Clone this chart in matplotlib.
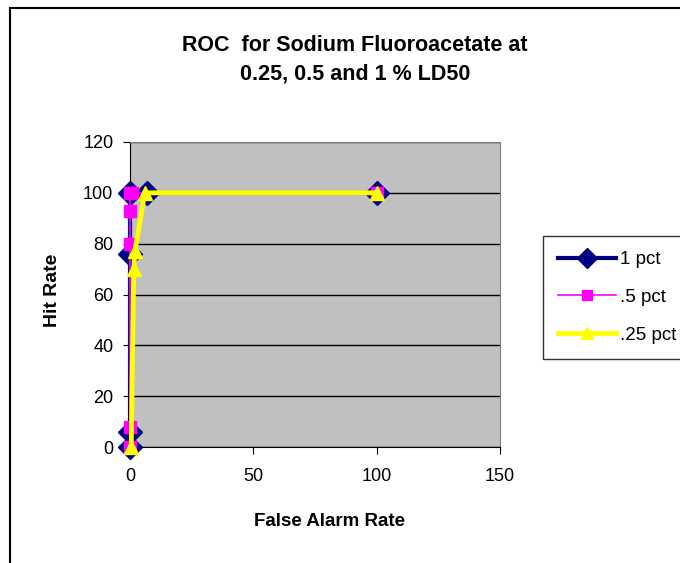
import matplotlib
matplotlib.use("Agg")
import matplotlib.pyplot as plt
from matplotlib.patches import Rectangle

plt.rcParams['font.family'] = ['Liberation Sans', 'DejaVu Sans']

title = "ROC  for Sodium Fluoroacetate at\n0.25, 0.5 and 1 % LD50"
x_label = "False Alarm Rate"
y_label = "Hit Rate"

s1_name = "1 pct"
s1_x = [0, 0, 0, 0, 7, 100]
s1_y = [0, 6, 76, 100, 100, 100]

s2_name = ".5 pct"
s2_x = [0, 0, 0, 0, 0, 1, 100]
s2_y = [0, 8, 80, 93, 100, 100, 100]

s3_name = ".25 pct"
s3_x = [0.5, 1.5, 2, 6, 100]
s3_y = [0, 70, 77, 100, 100]

x_ticks = [0, 50, 100, 150]
y_ticks = [0, 20, 40, 60, 80, 100, 120]

fig = plt.figure(figsize=(6.8, 5.63), dpi=100)
fig.patch.set_facecolor('white')
# outer chart frame (left/top visible, right/bottom beyond image)
fig.patches.append(Rectangle((10/680, -0.1), 1.2, 1 - 8/563 + 0.1,
                             transform=fig.transFigure, fill=False,
                             edgecolor='black', linewidth=1.5))

ax = fig.add_axes([130/680, 1 - 447/563, (500 - 130)/680, (447 - 142)/563])
ax.set_facecolor('#c0c0c0')
ax.set_xlim(0, 150)
ax.set_ylim(0, 120)
ax.set_xticks(x_ticks)
ax.set_yticks(y_ticks)
ax.yaxis.grid(True, color='black', linewidth=1)
ax.set_axisbelow(True)
for s in ['top', 'right']:
    ax.spines[s].set_color('#808080')
for s in ['left', 'bottom']:
    ax.spines[s].set_color('black')
ax.tick_params(direction='out', length=5, color='black', labelsize=13)
ax.tick_params(axis='x', pad=10)
ax.tick_params(axis='y', pad=7)

ax.plot(s1_x, s1_y, color='#000080', linewidth=3, marker='D', markersize=12,
        markerfacecolor='#000080', markeredgecolor='#000080', label=s1_name, clip_on=False, zorder=3)
ax.plot(s2_x, s2_y, color='#ff00ff', linewidth=1.2, marker='s', markersize=8,
        markerfacecolor='#ff00ff', markeredgecolor='#ff00ff', label=s2_name, clip_on=False, zorder=4)
ax.plot(s3_x, s3_y, color='#ffff00', linewidth=3.5, marker='^', markersize=10,
        markerfacecolor='#ffff00', markeredgecolor='#ffff00', label=s3_name, clip_on=False, zorder=5)

ax.set_xlabel(x_label, fontsize=13.5, fontweight='bold', va='center')
ax.xaxis.set_label_coords((330 - 130) / 370, (447 - 521) / 305)
ax.set_ylabel(y_label, fontsize=14, fontweight='bold', va='center')
ax.yaxis.set_label_coords((52 - 130) / 370, (447 - 290) / 305)

fig.text(355 / 680, 1 - 59.5 / 563, title, ha='center', va='center',
         fontsize=15.5, fontweight='bold', linespacing=1.45)

leg = fig.legend(loc='upper left', bbox_to_anchor=(543/680, 1 - 236/563),
                 borderaxespad=0,
                 frameon=True, fancybox=False, edgecolor='black', fontsize=13.5,
                 handlelength=3.1, borderpad=0.8, labelspacing=1.1, handletextpad=0.2,
                 markerscale=0.85)
leg.get_frame().set_linewidth(1)

fig.savefig("out.png", dpi=100, facecolor='white')
